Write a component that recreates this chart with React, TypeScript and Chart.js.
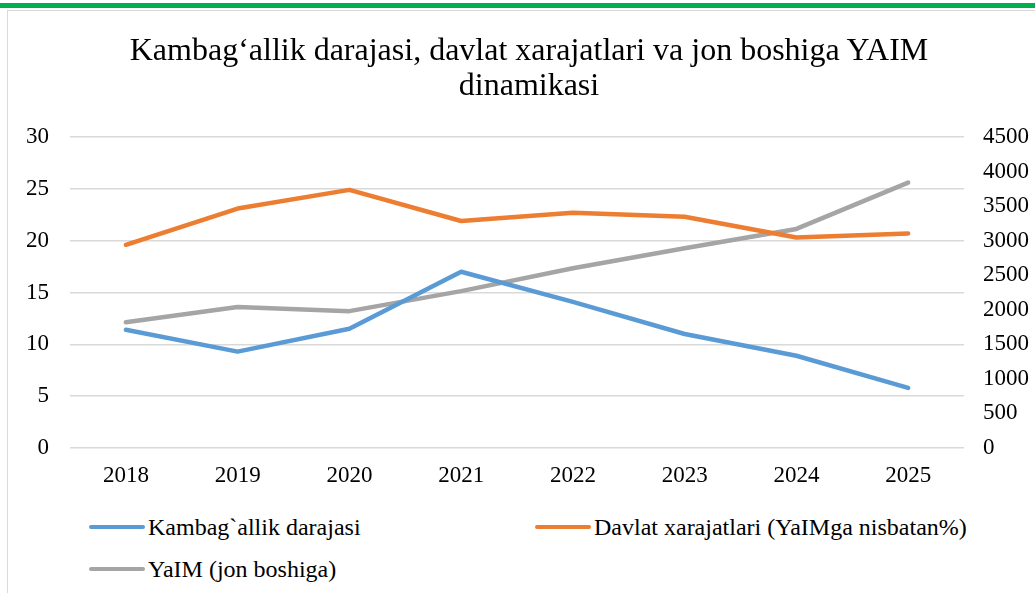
import React, { useEffect, useRef } from "react";
import { Chart, registerables } from "chart.js";

Chart.register(...registerables);

const years = ["2018", "2019", "2020", "2021", "2022", "2023", "2024", "2025"];
const povertyRate = [11.4, 9.3, 11.5, 17.0, 14.1, 11.0, 8.9, 5.8];
const govSpending = [19.6, 23.1, 24.9, 21.9, 22.7, 22.3, 20.3, 20.7];
const gdpPerCapita = [1820, 2040, 1980, 2270, 2600, 2890, 3170, 3840];

const titleLines = ["Kambag‘allik darajasi, davlat xarajatlari va jon boshiga YAIM", "dinamikasi"];
const seriesNames = ["Kambag`allik darajasi", "Davlat xarajatlari (YaIMga nisbatan%)", "YaIM (jon boshiga)"];
const seriesColors = ["#5b9bd5", "#ed7d31", "#a5a5a5"];

const FONT = "'Liberation Serif', 'Times New Roman', serif";

export default function App() {
  const ref = useRef<HTMLCanvasElement | null>(null);

  useEffect(() => {
    document.body.style.margin = "0";
    const ctx = ref.current;
    if (!ctx) return;
    const chart = new Chart(ctx, {
      type: "line",
      data: {
        labels: years,
        datasets: [
          { label: seriesNames[0], data: povertyRate, borderColor: seriesColors[0], backgroundColor: seriesColors[0], yAxisID: "y", borderWidth: 4.5, pointRadius: 0, tension: 0, borderCapStyle: "round", borderJoinStyle: "round" },
          { label: seriesNames[1], data: govSpending, borderColor: seriesColors[1], backgroundColor: seriesColors[1], yAxisID: "y", borderWidth: 4.5, pointRadius: 0, tension: 0, borderCapStyle: "round", borderJoinStyle: "round" },
          { label: seriesNames[2], data: gdpPerCapita, borderColor: seriesColors[2], backgroundColor: seriesColors[2], yAxisID: "y1", borderWidth: 4.5, pointRadius: 0, tension: 0, borderCapStyle: "round", borderJoinStyle: "round" },
        ],
      },
      options: {
        animation: false,
        responsive: false,
        layout: { padding: { top: 127, bottom: 0, left: 0, right: 0 } },
        plugins: {
          legend: { display: false },
          tooltip: { enabled: false },
          title: { display: false },
        },
        scales: {
          x: {
            offset: true,
            grid: { display: false },
            border: { display: false },
            ticks: { color: "#000", font: { family: FONT, size: 23 }, padding: 6 },
            afterFit: (s: any) => { s.height = 52; },
          },
          y: {
            position: "left",
            min: 0,
            max: 30,
            ticks: { stepSize: 5, color: "#000", font: { family: FONT, size: 23 }, padding: 21 },
            grid: { color: "#d9d9d9", lineWidth: 1.5, drawTicks: false },
            border: { display: false },
            afterFit: (s: any) => { s.width = 70; },
          },
          y1: {
            position: "right",
            min: 0,
            max: 4500,
            ticks: { stepSize: 500, color: "#000", font: { family: FONT, size: 23 }, padding: 19, callback: (v: any) => String(v) },
            grid: { display: false, drawTicks: false },
            border: { display: false },
            afterFit: (s: any) => { s.width = 71; },
          },
        },
      },
    });
    return () => chart.destroy();
  }, []);

  const legendItem = (i: number, left: number, top: number) => (
    <div key={i} style={{ position: "absolute", left, top, display: "flex", alignItems: "center", height: 30 }}>
      <div style={{ width: 56, height: 4.5, borderRadius: 3, background: seriesColors[i] }} />
      <span style={{ marginLeft: 3, fontFamily: FONT, fontSize: 24, color: "#000", whiteSpace: "nowrap" }}>{seriesNames[i]}</span>
    </div>
  );

  return (
    <div style={{ position: "relative", width: 1035, height: 593, overflow: "hidden", background: "#fff" }}>
      <div style={{ position: "absolute", left: 0, top: 3, width: 1035, height: 5, background: "#00b050" }} />
      <div style={{ position: "absolute", left: 7, top: 10, width: 1100, height: 700, borderLeft: "1.5px solid #d9d9d9", borderTop: "1.5px solid #d9d9d9" }} />
      <canvas ref={ref} width={1035} height={490} style={{ position: "absolute", left: 0, top: 10 }} />
      <div style={{ position: "absolute", left: 0, top: 32, width: 1058, textAlign: "center", fontFamily: FONT, fontSize: 32, lineHeight: "35px", color: "#000" }}>
        {titleLines.map((t, i) => (<div key={i}>{t}</div>))}
      </div>
      {legendItem(0, 89, 512)}
      {legendItem(1, 535, 512)}
      {legendItem(2, 89, 554)}
    </div>
  );
}
